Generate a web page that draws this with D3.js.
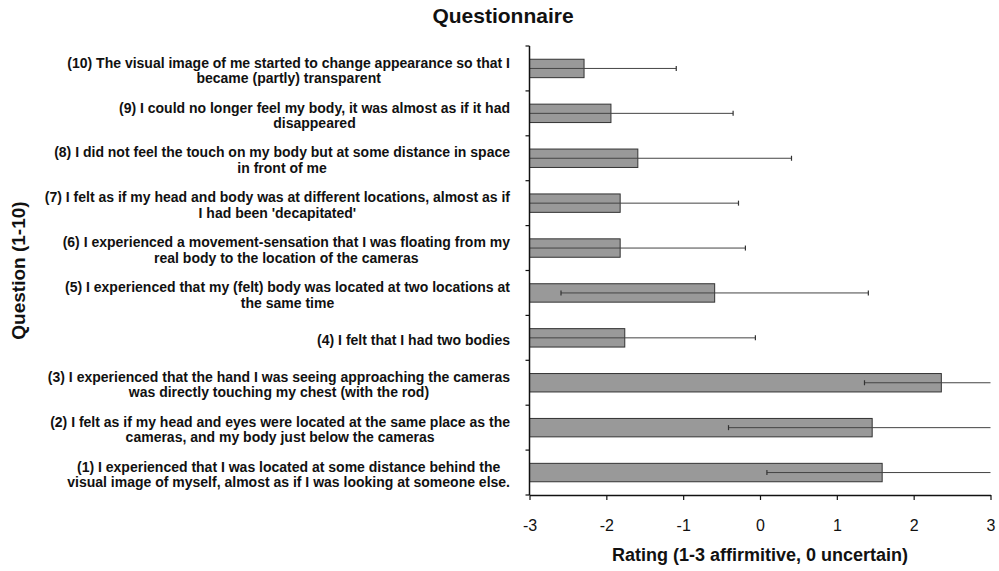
<!DOCTYPE html>
<html>
<head>
<meta charset="utf-8">
<script src="https://cdn.jsdelivr.net/npm/d3@7"></script>
<style>
  body { margin: 0; background: #fff; }
  text { font-family: Arial, "Liberation Sans", sans-serif; fill: #111; }
</style>
</head>
<body>
<div id="chart"></div>
<script>
// question labels, one entry per line of text (1 -> 10)
const questions = [
  ['(1) I experienced that I was located at some distance behind the', 'visual image of myself, almost as if I was looking at someone else.'],
  ['(2) I felt as if my head and eyes were located at the same place as the', 'cameras, and my body just below the cameras'],
  ['(3) I experienced that the hand I was seeing approaching the cameras', 'was directly touching my chest (with the rod)'],
  ['(4) I felt that I had two bodies'],
  ['(5) I experienced that my (felt) body was located at two locations at', 'the same time'],
  ['(6) I experienced a movement-sensation that I was floating from my', 'real body to the location of the cameras'],
  ['(7) I felt as if my head and body was at different locations, almost as if', 'I had been \'decapitated\''],
  ['(8) I did not feel the touch on my body but at some distance in space', 'in front of me'],
  ['(9) I could no longer feel my body, it was almost as if it had', 'disappeared'],
  ['(10) The visual image of me started to change appearance so that I', 'became (partly) transparent']
];
const ids = d3.range(1, 11);
const means = [1.59, 1.46, 2.36, -1.76, -0.59, -1.82, -1.82, -1.59, -1.94, -2.29];
const sds = [1.5, 1.87, 1.0, 1.7, 2.0, 1.63, 1.54, 2.0, 1.59, 1.2];
const xTicks = [-3, -2, -1, 0, 1, 2, 3];

const width = 999;
const height = 571;
const plotLeft = 529.5;
const plotRight = 990.5;
const plotTop = 46;
const plotBottom = 495;

const svg = d3.select('#chart')
  .append('svg')
  .attr('width', width)
  .attr('height', height);

const x = d3.scaleLinear()
  .domain([-3, 3])
  .range([plotLeft, plotRight]);

// question 10 on top, 1 at the bottom
const y = d3.scaleBand()
  .domain(ids.slice().reverse())
  .range([plotTop, plotBottom]);

const barH = y.bandwidth() * 0.41;
const clamp = v => Math.max(-3, Math.min(3, v));

const data = ids.map((id, i) => ({ id, lines: questions[i], mean: means[i], sd: sds[i] }));

// bars
svg.append('g')
  .selectAll('rect')
  .data(data)
  .enter()
  .append('rect')
  .attr('x', x(-3))
  .attr('y', d => y(d.id) + y.bandwidth() / 2 - barH / 2)
  .attr('width', d => x(d.mean) - x(-3))
  .attr('height', barH)
  .attr('fill', '#999999')
  .attr('stroke', '#333')
  .attr('stroke-width', 1);

// error bars
const err = svg.append('g').attr('class', 'errors');
data.forEach(d => {
  const cy = y(d.id) + y.bandwidth() / 2;
  const lo = d.mean - d.sd;
  const hi = d.mean + d.sd;
  err.append('line')
    .attr('x1', x(clamp(lo)))
    .attr('x2', x(clamp(hi)))
    .attr('y1', cy)
    .attr('y2', cy)
    .attr('stroke', '#444')
    .attr('stroke-width', 1);
  [lo, hi].filter(v => v > -3 && v < 3).forEach(v => {
    err.append('line')
      .attr('x1', x(v))
      .attr('x2', x(v))
      .attr('y1', cy - 2.5)
      .attr('y2', cy + 2.5)
      .attr('stroke', '#333')
      .attr('stroke-width', 1.2);
  });
});

// x axis
const xAxis = svg.append('g')
  .attr('transform', `translate(0,${plotBottom})`)
  .call(d3.axisBottom(x).tickValues(xTicks).tickSize(5).tickSizeOuter(0).tickFormat(d3.format('d')));
xAxis.select('.domain').attr('stroke', '#111').attr('stroke-width', 1.5);
xAxis.selectAll('.tick line').attr('stroke', '#111').attr('stroke-width', 1.2);
xAxis.selectAll('.tick text')
  .attr('y', 25)
  .attr('dy', '0.71em')
  .style('font-size', '16px')
  .style('font-family', 'Arial, "Liberation Sans", sans-serif')
  .attr('fill', '#111')
  .text(d => d < 0 ? '-' + Math.abs(d) : d);

// y axis: line with ticks at band edges
svg.append('line')
  .attr('x1', plotLeft).attr('x2', plotLeft)
  .attr('y1', plotTop).attr('y2', plotBottom)
  .attr('stroke', '#111')
  .attr('stroke-width', 1.5);

svg.append('g')
  .selectAll('line')
  .data(ids.map(id => y(id)).concat([plotBottom]))
  .enter()
  .append('line')
  .attr('x1', plotLeft - 4)
  .attr('x2', plotLeft)
  .attr('y1', d => d)
  .attr('y2', d => d)
  .attr('stroke', '#111')
  .attr('stroke-width', 1.2);

// category labels, centred lines, block right-aligned to the axis
const labels = svg.append('g')
  .selectAll('g')
  .data(data)
  .enter()
  .append('g');

labels.each(function (d) {
  const g = d3.select(this);
  const cy = y(d.id) + y.bandwidth() / 2 + 2;
  const lh = 15.5;
  const texts = d.lines.map((t, i) => g.append('text')
    .attr('y', cy + (i - (d.lines.length - 1) / 2) * lh)
    .attr('dy', '0.35em')
    .attr('text-anchor', 'middle')
    .style('font-size', '14px')
    .style('font-weight', 'bold')
    .text(t));
  const w = d3.max(texts, t => t.node().getComputedTextLength());
  texts.forEach(t => t.attr('x', 510 - w / 2));
});

// titles
svg.append('text')
  .attr('x', 503)
  .attr('y', 23)
  .attr('text-anchor', 'middle')
  .style('font-size', '21px')
  .style('font-weight', 'bold')
  .text('Questionnaire');

svg.append('text')
  .attr('x', (plotLeft + plotRight) / 2)
  .attr('y', 561)
  .attr('text-anchor', 'middle')
  .style('font-size', '18px')
  .style('font-weight', 'bold')
  .text('Rating (1-3 affirmitive, 0 uncertain)');

svg.append('text')
  .attr('transform', `translate(25,${(plotTop + plotBottom) / 2}) rotate(-90)`)
  .attr('text-anchor', 'middle')
  .style('font-size', '19px')
  .style('font-weight', 'bold')
  .text('Question (1-10)');
</script>
</body>
</html>
